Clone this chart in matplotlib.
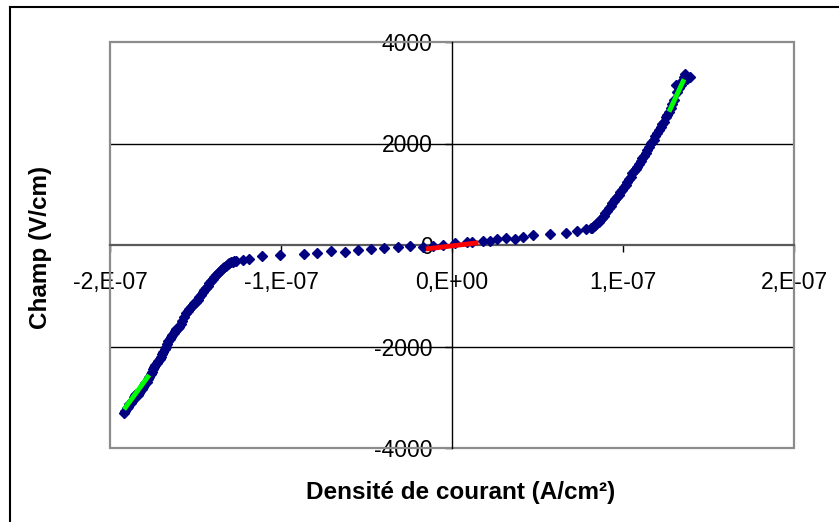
import matplotlib
matplotlib.use("Agg")
import matplotlib.pyplot as plt
from matplotlib.patches import Rectangle
from matplotlib.lines import Line2D

plt.rcParams['font.family'] = ['Liberation Sans', 'DejaVu Sans']

# measured points, x in units of 1e-7 A/cm2, y in V/cm
x_left = [-1.918, -1.912, -1.903, -1.895, -1.889, -1.880, -1.872, -1.866, -1.859, -1.851,
          -1.846, -1.838, -1.830, -1.822, -1.814, -1.808, -1.801, -1.793, -1.786, -1.779,
          -1.771, -1.763, -1.757, -1.750, -1.742, -1.735, -1.727, -1.719, -1.710, -1.703,
          -1.695, -1.688, -1.681, -1.673, -1.666, -1.659, -1.651, -1.644, -1.636, -1.628,
          -1.620, -1.612, -1.603, -1.595, -1.586, -1.577, -1.566, -1.556, -1.546, -1.536,
          -1.526, -1.516, -1.507, -1.497, -1.487, -1.478, -1.468, -1.459, -1.449, -1.439,
          -1.429, -1.419, -1.409, -1.399, -1.390, -1.380, -1.370, -1.360, -1.350, -1.341,
          -1.331, -1.321, -1.312, -1.302, -1.292, -1.283, -1.272, -1.263]
y_left = [-3317, -3280, -3220, -3186, -3140, -3110, -3070, -3054, -3000, -2960,
          -2940, -2950, -2923, -2870, -2830, -2800, -2759, -2720, -2690, -2640,
          -2594, -2550, -2500, -2450, -2397, -2360, -2320, -2280, -2240, -2200,
          -2150, -2100, -2050, -2004, -1960, -1900, -1860, -1807, -1770, -1730,
          -1690, -1650, -1630, -1610, -1560, -1500, -1420, -1346, -1300, -1260,
          -1220, -1180, -1150, -1117, -1080, -1030, -980, -920, -880, -840,
          -800, -755, -710, -670, -630, -591, -560, -525, -490, -459,
          -430, -405, -380, -361, -340, -329, -318, -309]

x_mid = [-1.224, -1.185, -1.113, -1.007, -0.864, -0.788, -0.706, -0.628, -0.550, -0.471,
         -0.397, -0.318, -0.246, -0.172, -0.110, -0.050, 0.018, 0.086, 0.115, 0.184,
         0.223, 0.266, 0.315, 0.366, 0.418, 0.471, 0.575, 0.667, 0.731, 0.784]
y_mid = [-296, -276, -217, -197, -171, -152, -124, -132, -99, -79,
         -65, -33, -20, -33, -10, 5, 33, 53, 53, 79,
         85, 112, 132, 124, 158, 191, 211, 236, 282, 309]

x_right = [0.810, 0.819, 0.829, 0.839, 0.848, 0.858, 0.868, 0.878, 0.887, 0.897,
           0.907, 0.917, 0.927, 0.937, 0.946, 0.956, 0.966, 0.976, 0.985, 0.995,
           1.005, 1.015, 1.025, 1.035, 1.044, 1.054, 1.064, 1.074, 1.083, 1.093,
           1.103, 1.113, 1.122, 1.132, 1.142, 1.151, 1.161, 1.171, 1.181, 1.190,
           1.200, 1.210, 1.220, 1.229, 1.239, 1.249, 1.259, 1.269, 1.279, 1.288,
           1.298, 1.308, 1.318, 1.327, 1.337, 1.347, 1.357, 1.363, 1.376, 1.390]
y_right = [330, 341, 365, 394, 425, 459, 500, 538, 580, 624,
           672, 723, 770, 822, 870, 910, 952, 995, 1040, 1084,
           1140, 1190, 1248, 1300, 1346, 1414, 1460, 1500, 1543, 1600,
           1650, 1708, 1760, 1806, 1872, 1940, 2004, 2036, 2069, 2140,
           2201, 2260, 2319, 2380, 2430, 2528, 2562, 2627, 2693, 2770,
           2857, 3153, 3021, 3090, 3153, 3230, 3317, 3363, 3280, 3304]

# linear fits drawn over the data
fit_left_x = [-1.918, -1.771]
fit_left_y = [-3238, -2562]
fit_right_x = [1.269, 1.357]
fit_right_y = [2627, 3265]
fit_zero_x = [-0.153, 0.154]
fit_zero_y = [-79, 45]

xticks = [-2e-7, -1e-7, 0, 1e-7, 2e-7]
xticklabels = ['-2,E-07', '-1,E-07', '0,E+00', '1,E-07', '2,E-07']
yticks = [-4000, -2000, 0, 2000, 4000]
yticklabels = ['-4000', '-2000', '0', '2000', '4000']

W, H = 839, 522
fig = plt.figure(figsize=(W / 100, H / 100), dpi=100)
ax = fig.add_axes([110 / W, 1 - 448 / H, 684 / W, 406 / H])

sc = 1e-7
ax.plot([v * sc for v in x_left + x_mid + x_right], y_left + y_mid + y_right,
        linestyle='none', marker='D', ms=4.8, color='#000080', zorder=3)
ax.plot([v * sc for v in fit_left_x], fit_left_y, color='#00ff00', lw=3.5, zorder=4,
        solid_capstyle='butt')
ax.plot([v * sc for v in fit_right_x], fit_right_y, color='#00ff00', lw=3.5, zorder=4,
        solid_capstyle='butt')
ax.plot([v * sc for v in fit_zero_x], fit_zero_y, color='#ff0000', lw=3.5, zorder=4,
        solid_capstyle='butt')

ax.set_xlim(-2e-7, 2e-7)
ax.set_ylim(-4000, 4000)

for y in (-2000, 2000):
    ax.axhline(y, color='black', lw=1, zorder=1)

for s in ('top', 'right'):
    ax.spines[s].set_visible(False)
ax.spines['left'].set_position(('data', 0))
ax.spines['bottom'].set_position(('data', 0))
ax.spines['left'].set_color('black')
ax.spines['left'].set_linewidth(1)
ax.spines['bottom'].set_color('#5a5a5a')
ax.spines['bottom'].set_linewidth(1.6)
ax.add_patch(Rectangle((0, 0), 1, 1, transform=ax.transAxes, fill=False,
                       edgecolor='#8c8c8c', lw=1.6, clip_on=False, zorder=2))

ax.set_xticks(xticks)
ax.set_xticklabels(xticklabels)
ax.set_yticks(yticks)
ax.set_yticklabels(yticklabels)
ax.tick_params(axis='x', direction='out', length=5, width=1, pad=14, labelsize=16.5)
ax.tick_params(axis='y', direction='out', length=5, width=1, pad=9, labelsize=16.5)

fig.text(41 / W, 1 - 247 / H, 'Champ (V/cm)', rotation=90, ha='center', va='center',
         fontsize=17.5, fontweight='bold')
fig.text(461 / W, 1 - 492 / H, 'Densité de courant (A/cm²)', ha='center', va='center',
         fontsize=17.5, fontweight='bold')

# outer chart frame (only left and top edges are inside the picture)
fig.add_artist(Line2D([10 / W, 10 / W], [0, 1 - 7 / H], color='black', lw=1.5))
fig.add_artist(Line2D([10 / W, 1], [1 - 7 / H, 1 - 7 / H], color='black', lw=1.5))

fig.savefig('out.png', dpi=100)
